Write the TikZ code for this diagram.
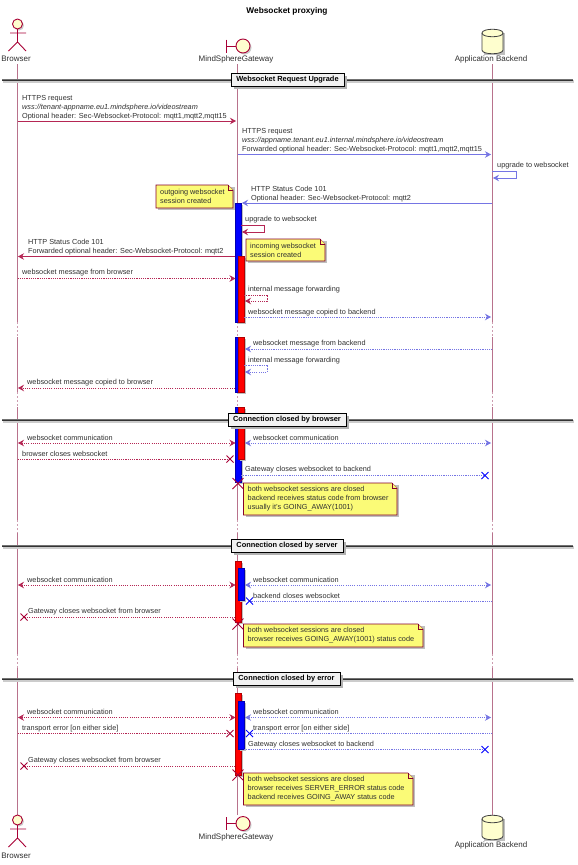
\documentclass[tikz,border=0pt]{standalone}
\usepackage{fontspec}
\setmainfont{Liberation Sans}
\usetikzlibrary{arrows.meta}
\definecolor{plum}{HTML}{A80036}
\definecolor{lifec}{HTML}{B8728C}
\definecolor{noteyel}{HTML}{FBFB77}
\definecolor{partyel}{HTML}{FEFECE}
\definecolor{blueline}{HTML}{3A3AD8}
\definecolor{txt}{HTML}{303030}
\tikzset{
  every node/.style={font=\fontsize{7.3}{9}\selectfont,text=txt,inner sep=0pt},
  pname/.style={font=\fontsize{8}{9}\selectfont},
  lbl/.style={anchor=west,align=left},
  tip/.style={-{Stealth[length=6pt,width=6.5pt,inset=2pt]}},
  tips/.style={{Stealth[length=6pt,width=6.5pt,inset=2pt]}-{Stealth[length=6pt,width=6.5pt,inset=2pt]}},
  red msg/.style={draw=plum!85,line width=0.7pt},
  blue msg/.style={draw=blueline!70,line width=0.7pt},
  dot/.style={dash pattern=on 1.1pt off 1.1pt},
  life/.style={draw=lifec,line width=0.9pt},
  lifed/.style={draw=lifec!70,line width=0.9pt,dash pattern=on 1.5pt off 2.5pt},
  party/.style={draw=plum,fill=partyel,line width=0.9pt},
  notebox/.style={draw=plum!80!black,fill=noteyel,line width=0.6pt},
  divbox/.style={draw=black,fill=white!95!black,line width=1pt,anchor=center,inner xsep=3pt,inner ysep=2.5pt,minimum height=13.5pt,font=\fontsize{7.4}{9}\selectfont\bfseries,text=black},
}
\newcommand{\msgline}[6][tip]{%
  \coordinate (#2s) at (#4,#6);\coordinate (#2e) at (#5,#6);
  \draw[#3,#1] (#2s) -- (#2e);}
\newcommand{\crosscol}{plum}
\newcommand{\crossat}[4][3.5]{%
  \coordinate (#2) at (#3,#4);
  \draw[line width=1pt,draw=\crosscol] ([shift={(-#1,-#1)}]#2) -- ([shift={(#1,#1)}]#2);
  \draw[line width=1pt,draw=\crosscol] ([shift={(-#1,#1)}]#2) -- ([shift={(#1,-#1)}]#2);}
\newcommand{\activ}[6]{%
  \coordinate (#1a) at (#3,#5);\coordinate (#1b) at (#4,#6);
  \fill[black!25] ([shift={(1.5,1.5)}]#1a) rectangle ([shift={(1.5,1.5)}]#1b);
  \draw[fill=#2,draw=#2!70!black,line width=0.5pt] (#1a) rectangle (#1b);}
\newcommand{\notebx}[6]{%
  \fill[black!25] (#2+2,#3+2) rectangle (#4+2,#5+2);
  \draw[notebox] (#2,#3) -- (#4-5,#3) -- (#4,#3+5) -- (#4,#5) -- (#2,#5) -- cycle;
  \draw[notebox,fill=noteyel] (#4-5,#3) -- (#4-5,#3+5) -- (#4,#3+5);
  \node[lbl] (#1) at (#2+4,{(#3+#5)/2}) {#6};}
\newcommand{\divider}[5]{%
  \coordinate (#1l) at (2,#3);\coordinate (#1r) at (573,#3);
  \draw[black!20,line width=3pt] ([shift={(1,1.5)}]#1l) -- ([shift={(1,1.5)}]#1r);
  \draw[black!55,line width=2.6pt] (#1l) -- (#1r);
  \draw[black!80,line width=0.5pt] (#1l) -- (#1r);
  \fill[black!30] (#4+2.5,#3-4.5) rectangle (#5+2.5,#3+9);
  \node[divbox,minimum width={#5-#4}] (#1) at ({(#4+#5)/2},#3) {#2};}
\newcommand{\actorfig}[2]{%
  \coordinate (#1) at (17.5,#2);
  \fill[black!20] ([shift={(1.5,1.5)}]#1) circle (5);
  \draw[party] (#1) circle (5);
  \draw[draw=plum,line width=0.9pt] (17.5,#2+5) -- (17.5,#2+18)
    (10,#2+9) -- (26,#2+9)
    (8.5,#2+27) -- (17.5,#2+18) -- (26,#2+27);}
\newcommand{\boundfig}[2]{%
  \coordinate (#1) at (243,#2);
  \fill[black!20] (244.5,#2+1.5) circle (7);
  \draw[draw=plum,line width=0.9pt] (226,#2-6.5) -- (226,#2+6.5) (226,#2) -- (236,#2);
  \draw[party] (#1) circle (7);}
\newcommand{\dbfig}[3]{%
  \coordinate (#1) at (492.3,#2);
  \fill[black!25] (484,#2+4) rectangle (505,#3+1);
  \draw[draw=black!75,fill=partyel,line width=0.8pt] (482,#2+4) .. controls (482,#2-1) and (503,#2-1) .. (503,#2+4) -- (503,#3-4) .. controls (503,#3+1) and (482,#3+1) .. (482,#3-4) -- cycle;
  \draw[draw=black!75,line width=0.8pt] (482,#2+4) .. controls (482,#2+9) and (503,#2+9) .. (503,#2+4);}
\begin{document}
\begin{tikzpicture}[x=1pt,y=-1pt]
\useasboundingbox (0,0) rectangle (578,865);
\fill[white] (0,0) rectangle (578,865);
\node[font=\fontsize{8.3}{9}\selectfont\bfseries,text=black] (title) at (287,11) {Websocket proxying};

% lifelines
\foreach \nm/\xx in {b/17.6,g/237.7,a/492.3}{
  \coordinate (\nm0) at (\xx,64);\coordinate (\nm1) at (\xx,322);
  \coordinate (\nm2) at (\xx,337);\coordinate (\nm3) at (\xx,392);
  \coordinate (\nm4) at (\xx,407);\coordinate (\nm5) at (\xx,520);
  \coordinate (\nm6) at (\xx,533);\coordinate (\nm7) at (\xx,654);
  \coordinate (\nm8) at (\xx,668);\coordinate (\nm9) at (\xx,815);
  \draw[life] (\nm0)--(\nm1) (\nm2)--(\nm3) (\nm4)--(\nm5) (\nm6)--(\nm7) (\nm8)--(\nm9);
  \draw[lifed] (\nm1)--(\nm2) (\nm3)--(\nm4) (\nm5)--(\nm6) (\nm7)--(\nm8);
}

% participants
\actorfig{actT}{24}
\actorfig{actB}{820}
\node[pname] (browserT) at (16,59) {Browser};
\node[pname] (browserB) at (16,856) {Browser};
\boundfig{bndT}{46}
\boundfig{bndB}{823.5}
\node[pname] (gateT) at (236,59) {MindSphereGateway};
\node[pname] (gateB) at (236,837) {MindSphereGateway};
\dbfig{dbT}{29}{54}
\dbfig{dbB}{815}{840}
\node[pname] (appT) at (491,59) {Application Backend};
\node[pname] (appB) at (491,845) {Application Backend};

\divider{d1}{Websocket Request Upgrade}{80}{231}{344}

% upgrade
\msgline{m1}{red msg}{17.6}{236}{121}
\node[lbl] (t1) at (22,107.5) {HTTPS request\\\textit{wss://tenant-appname.eu1.mindsphere.io/videostream}\\Optional header: Sec-Websocket-Protocol: mqtt1,mqtt2,mqtt15};
\msgline{m2}{blue msg}{238}{491}{154.5}
\node[lbl] (t2) at (242,141) {HTTPS request\\\textit{wss://appname.tenant.eu1.internal.mindsphere.io/videostream}\\Forwarded optional header: Sec-Websocket-Protocol: mqtt1,mqtt2,mqtt15};
\coordinate (s3a) at (492.3,171.7);\coordinate (s3b) at (516,171.7);\coordinate (s3c) at (516,178);\coordinate (s3d) at (493,178);
\draw[blue msg,tip] (s3a)--(s3b)--(s3c)--(s3d);
\node[lbl] (t3) at (497,166) {upgrade to websocket};

% first round
\activ{ba1}{blue}{235}{241}{203}{322}
\activ{ra1}{red}{238}{244}{256}{322}
\msgline{m4}{blue msg}{492.3}{242}{203}
\node[lbl] (t4) at (251,194) {HTTP Status Code 101\\Optional header: Sec-Websocket-Protocol: mqtt2};
\notebx{n1}{156}{185}{233}{208}{outgoing websocket\\session created}
\coordinate (s5a) at (241,225);\coordinate (s5b) at (264.5,225);\coordinate (s5c) at (264.5,232);\coordinate (s5d) at (242,232);
\draw[red msg,tip] (s5a)--(s5b)--(s5c)--(s5d);
\node[lbl] (t5) at (245,220) {upgrade to websocket};
\notebx{n2}{246}{239}{325}{261}{incoming websocket\\session created}
\msgline{m6}{red msg}{235}{18}{256.5}
\node[lbl] (t6) at (28,247.5) {HTTP Status Code 101\\Forwarded optional header: Sec-Websocket-Protocol: mqtt2};
\msgline[tip,dot]{m7}{red msg}{17.6}{235.5}{278.5}
\node[lbl] (t7) at (22,273) {websocket message from browser};
\coordinate (s8a) at (244,295);\coordinate (s8b) at (267,295);\coordinate (s8c) at (267,301);\coordinate (s8d) at (245,301);
\draw[red msg,tip,dot] (s8a)--(s8b)--(s8c)--(s8d);
\node[lbl] (t8) at (248,290) {internal message forwarding};
\msgline[tip,dot]{m9}{blue msg}{244}{491}{317}
\node[lbl] (t9) at (248,313) {websocket message copied to backend};

% second round
\activ{ba2}{blue}{235}{241}{337}{392}
\activ{ra2}{red}{238}{244}{337}{392}
\msgline[tip,dot]{m10}{blue msg}{492.3}{245}{349}
\node[lbl] (t10) at (253,344) {websocket message from backend};
\coordinate (s11a) at (244,365);\coordinate (s11b) at (267,365);\coordinate (s11c) at (267,372);\coordinate (s11d) at (245,372);
\draw[blue msg,tip,dot] (s11a)--(s11b)--(s11c)--(s11d);
\node[lbl] (t11) at (248,361) {internal message forwarding};
\msgline[tip,dot]{m12}{red msg}{235}{18}{388}
\node[lbl] (t12) at (27,383) {websocket message copied to browser};

% closed by browser
\activ{ba3}{blue}{235}{241}{407}{482}
\activ{ra3}{red}{238}{244}{407}{459}
\divider{d2}{Connection closed by browser}{420}{228}{346}
\msgline[tips,dot]{m13}{red msg}{18}{235.5}{443}
\node[lbl] (t13) at (27,438) {websocket communication};
\msgline[tips,dot]{m14}{blue msg}{245}{491}{443}
\node[lbl] (t14) at (253,438) {websocket communication};
\msgline[-,dot]{m15}{red msg}{17.6}{230}{459}
\crossat{x15}{230}{459}
\node[lbl] (t15) at (22,454) {browser closes websocket};
\renewcommand{\crosscol}{blue}
\msgline[-,dot]{m16}{blue msg}{241}{485}{475.5}
\crossat{x16}{485}{475.5}
\node[lbl] (t16) at (245,470) {Gateway closes websocket to backend};
\renewcommand{\crosscol}{plum}
\crossat[5.5]{x17}{238}{483.5}
\notebx{n3}{243.5}{483}{397}{515}{both websocket sessions are closed\\backend receives status code from browser\\usually it's GOING\_AWAY(1001)}

% closed by server
\activ{ra4}{red}{235}{241}{561}{622}
\activ{ba4}{blue}{238}{244}{568}{600}
\divider{d3}{Connection closed by server}{546}{231}{343}
\msgline[tips,dot]{m18}{red msg}{18}{235.5}{585}
\node[lbl] (t18) at (27,580) {websocket communication};
\msgline[tips,dot]{m19}{blue msg}{245}{491}{585}
\node[lbl] (t19) at (253,580) {websocket communication};
\msgline[-,dot]{m20}{blue msg}{492.3}{250}{601}
\renewcommand{\crosscol}{blue}
\crossat{x20}{249.5}{601}
\node[lbl] (t20) at (253,596) {backend closes websocket};
\renewcommand{\crosscol}{plum}
\msgline[-,dot]{m21}{red msg}{235}{24}{617}
\crossat{x21}{24}{617}
\node[lbl] (t21) at (28,612) {Gateway closes websocket from browser};
\crossat[5.5]{x22}{238}{624}
\notebx{n4}{243.5}{624}{423}{647}{both websocket sessions are closed\\browser receives GOING\_AWAY(1001) status code}

% closed by error
\activ{ra5}{red}{235}{241}{693}{775}
\activ{ba5}{blue}{238}{244}{701}{749}
\divider{d4}{Connection closed by error}{679}{233}{340}
\msgline[tips,dot]{m23}{red msg}{18}{235.5}{717.5}
\node[lbl] (t23) at (27,712) {websocket communication};
\msgline[tips,dot]{m24}{blue msg}{245}{491}{717.5}
\node[lbl] (t24) at (253,712) {websocket communication};
\msgline[-,dot]{m25}{red msg}{17.6}{230}{733.5}
\crossat{x25}{230}{733.5}
\node[lbl] (t25) at (22,729) {transport error [on either side]};
\msgline[-,dot]{m26}{blue msg}{492.3}{250}{733.5}
\renewcommand{\crosscol}{blue}
\crossat{x26}{249.5}{733.5}
\node[lbl] (t26) at (253,729) {transport error [on either side]};
\msgline[-,dot]{m27}{blue msg}{244}{485}{749.5}
\crossat{x27}{485}{749.5}
\node[lbl] (t27) at (248,745) {Gateway closes websocket to backend};
\renewcommand{\crosscol}{plum}
\msgline[-,dot]{m28}{red msg}{235}{24}{766}
\crossat{x28}{24}{766}
\node[lbl] (t28) at (28,761) {Gateway closes websocket from browser};
\crossat[5.5]{x29}{238}{775}
\notebx{n5}{243.5}{773}{413}{805}{both websocket sessions are closed\\browser receives SERVER\_ERROR status code\\backend receives GOING\_AWAY status code}
\end{tikzpicture}
\end{document}
